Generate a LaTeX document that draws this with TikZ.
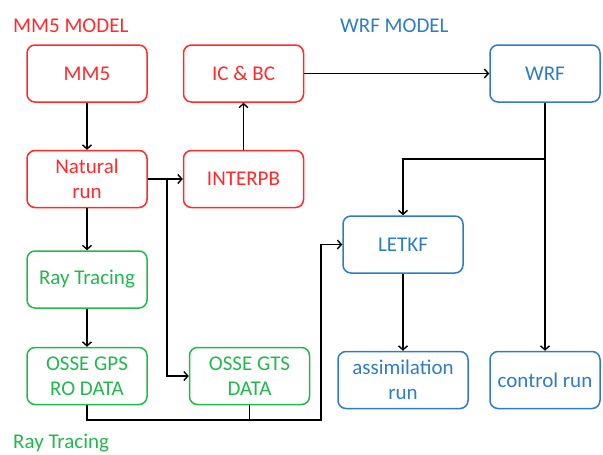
\documentclass[tikz,border=0pt]{standalone}
\usepackage{fontspec}
\setmainfont{Carlito}
\usepackage{tikz}
\usetikzlibrary{arrows.meta,positioning,calc}
\tikzset{
  blk/.style={draw=#1, text=#1, rounded corners=8pt, align=center, line width=1.5pt,
    minimum width=120pt, minimum height=57pt, inner sep=2pt},
  blk/.default=black,
  arr/.style={-{Straight Barb[length=4pt, width=9pt]}, line width=1.4pt},
}
\definecolor{mmred}{HTML}{FF2A2A}
\definecolor{wrfblue}{HTML}{2E7CC4}
\definecolor{raygreen}{HTML}{22B84C}

\begin{document}
\begin{tikzpicture}[x=1pt, y=-1pt, font=\fontsize{21}{25}\selectfont,
  lbl/.style={inner sep=0pt, anchor=west}]
  \useasboundingbox (0,0) rectangle (603,455);
  % titles
  \node[lbl, text=mmred] (mmtitle) at (13,26) {MM5 MODEL};
  \node[lbl, text=wrfblue] (wrftitle) at (340,26) {WRF MODEL};
  \node[lbl, text=raygreen, anchor=base west] (raytitle) at (13,448) {Ray Tracing};
  % MM5 side
  \node[blk=mmred] (mm5) at (87,73.5) {MM5};
  \node[blk=mmred, below=47pt of mm5] (natural) {Natural\\run};
  \node[blk=mmred, right=35pt of natural] (interpb) {INTERPB};
  \node[blk=mmred, above=47pt of interpb] (icbc) {IC \& BC};
  % ray tracing
  \node[blk=raygreen, below=42pt of natural] (ray) {Ray Tracing};
  \node[blk=raygreen, below=38pt of ray] (gps) {OSSE GPS\\RO DATA};
  \node[blk=raygreen, right=41pt of gps] (gts) {OSSE GTS\\DATA};
  % WRF side
  \node[blk=wrfblue, minimum width=110pt] (wrf) at (545,73.5) {WRF};
  \node[blk=wrfblue] (letkf) at (403,244.5) {LETKF};
  \node[blk=wrfblue, minimum width=130pt] (assim) at (403,380) {assimilation\\run};
  \node[blk=wrfblue, minimum width=110pt] (control) at (545,380) {control run};
  % connectors
  \coordinate (split) at (167,177.5);
  \coordinate (wsplit) at (545,159);
  \coordinate (join) at (321,420);
  \draw[arr] (mm5) -- (natural);
  \draw[arr] (natural) -- (interpb);
  \draw[arr] (split) |- (gts.west);
  \draw[arr] (interpb) -- (icbc);
  \draw[arr] (icbc) -- (wrf);
  \draw[arr] (wrf) -- (control);
  \draw[arr] (wsplit) -| (letkf.north);
  \draw[arr] (letkf) -- (assim);
  \draw[arr] (natural) -- (ray);
  \draw[arr] (ray) -- (gps);
  \draw[arr] (gps.south) |- (join) |- (letkf.west);
  \draw[line width=1.4pt] (gts.south) -- (gts.south |- join);
\end{tikzpicture}
\end{document}
